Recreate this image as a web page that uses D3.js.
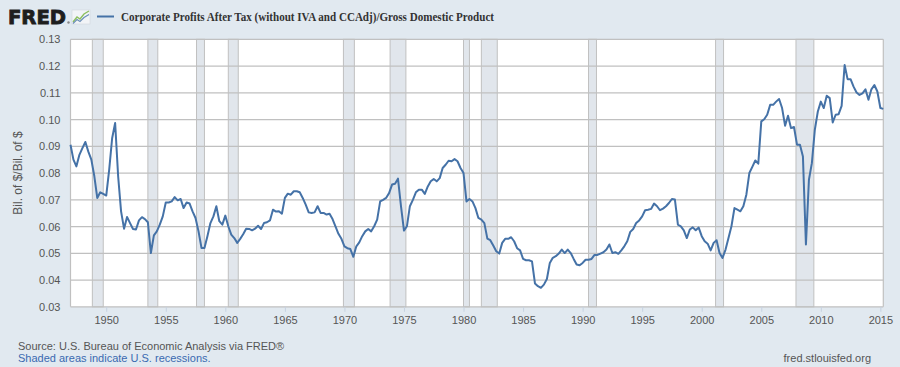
<!DOCTYPE html>
<html><head><meta charset="utf-8">
<script src="https://cdn.jsdelivr.net/npm/d3@7"></script>
<style>
html,body{margin:0;padding:0;background:#e1e9f0;}
svg{display:block;}
</style></head>
<body>
<svg id="c" width="900" height="367"></svg>
<script>
// ---- data ----
const title = "Corporate Profits After Tax (without IVA and CCAdj)/Gross Domestic Product";
const yAxisLabel = "Bil. of $/Bil. of $";
const startQuarter = "1947-01-01"; // quarterly observations from 1947Q1
const values = [
0.0906,0.0850,0.0825,0.0868, 0.0893,0.0916,0.0880,0.0850,
0.0788,0.0707,0.0728,0.0722, 0.0716,0.0812,0.0930,0.0987,
0.0788,0.0657,0.0592,0.0636, 0.0613,0.0591,0.0589,0.0623,
0.0635,0.0628,0.0616,0.0501, 0.0567,0.0582,0.0607,0.0638,
0.0690,0.0690,0.0694,0.0710, 0.0698,0.0703,0.0669,0.0690,
0.0686,0.0657,0.0632,0.0582, 0.0520,0.0520,0.0564,0.0613,
0.0638,0.0676,0.0620,0.0607, 0.0641,0.0601,0.0570,0.0557,
0.0539,0.0554,0.0571,0.0592, 0.0591,0.0586,0.0592,0.0603,
0.0591,0.0613,0.0616,0.0623, 0.0663,0.0656,0.0657,0.0648,
0.0707,0.0723,0.0719,0.0732, 0.0732,0.0728,0.0707,0.0682,
0.0653,0.0651,0.0653,0.0676, 0.0651,0.0651,0.0645,0.0648,
0.0628,0.0601,0.0573,0.0554, 0.0526,0.0519,0.0516,0.0487,
0.0526,0.0541,0.0564,0.0582, 0.0591,0.0582,0.0601,0.0626,
0.0694,0.0700,0.0707,0.0725, 0.0757,0.0760,0.0779,0.0676,
0.0585,0.0601,0.0676,0.0700, 0.0728,0.0738,0.0738,0.0722,
0.0750,0.0769,0.0778,0.0769, 0.0781,0.0819,0.0831,0.0846,
0.0844,0.0852,0.0844,0.0819, 0.0800,0.0694,0.0703,0.0694,
0.0669,0.0632,0.0626,0.0613, 0.0555,0.0549,0.0529,0.0508,
0.0499,0.0539,0.0554,0.0554, 0.0560,0.0545,0.0519,0.0511,
0.0479,0.0474,0.0474,0.0470, 0.0387,0.0377,0.0371,0.0383,
0.0404,0.0464,0.0483,0.0489, 0.0499,0.0514,0.0501,0.0514,
0.0501,0.0479,0.0458,0.0455, 0.0464,0.0476,0.0476,0.0479,
0.0494,0.0494,0.0499,0.0504, 0.0514,0.0533,0.0501,0.0504,
0.0498,0.0511,0.0526,0.0545, 0.0580,0.0591,0.0613,0.0623,
0.0638,0.0661,0.0663,0.0666, 0.0686,0.0676,0.0661,0.0667,
0.0676,0.0688,0.0703,0.0701, 0.0607,0.0601,0.0586,0.0557,
0.0589,0.0597,0.0586,0.0596, 0.0564,0.0545,0.0536,0.0511,
0.0539,0.0549,0.0501,0.0483, 0.0514,0.0557,0.0601,0.0669,
0.0663,0.0657,0.0676,0.0719, 0.0800,0.0823,0.0847,0.0835,
0.0993,0.1001,0.1018,0.1055, 0.1055,0.1067,0.1077,0.1043,
0.0977,0.1014,0.0968,0.0972, 0.0906,0.0906,0.0862,0.0533,
0.0775,0.0837,0.0962,0.1030, 0.1067,0.1043,0.1089,0.1080,
0.0989,0.1018,0.1020,0.1051, 0.1204,0.1151,0.1151,0.1123,
0.1101,0.1092,0.1098,0.1113, 0.1074,0.1113,0.1129,0.1105,
0.1043,0.1040
];
const recessionStarts = ["1948-11-01","1953-07-01","1957-08-01","1960-04-01","1969-12-01","1973-11-01","1980-01-01","1981-07-01","1990-07-01","2001-03-01","2007-12-01"];
const recessionEnds   = ["1949-10-01","1954-05-01","1958-04-01","1961-02-01","1970-11-01","1975-03-01","1980-07-01","1982-11-01","1991-03-01","2001-11-01","2009-06-01"];
const yTicks = [0.03,0.04,0.05,0.06,0.07,0.08,0.09,0.10,0.11,0.12,0.13];
const xTickYears = [1950,1955,1960,1965,1970,1975,1980,1985,1990,1995,2000,2005,2010,2015];
const sourceText = "Source: U.S. Bureau of Economic Analysis via FRED®";
const shadedText = "Shaded areas indicate U.S. recessions.";
const siteText = "fred.stlouisfed.org";

// ---- build ----
const parse = d3.utcParse("%Y-%m-%d");
const start = parse(startQuarter);
const series = values.map((v,i)=>({date:d3.utcMonth.offset(start,3*i), value:v}));
const recessions = recessionStarts.map((s,i)=>({s:parse(s), e:parse(recessionEnds[i])}));

const svg = d3.select("#c");
const L=70.5, R=883.3, T=39.3, B=306.8;

const x = d3.scaleUtc().domain([series[0].date, series[series.length-1].date]).range([L,R]);
const y = d3.scaleLinear().domain([0.03,0.13]).range([B,T]);

// plot background
svg.append("rect").attr("x",L).attr("y",T).attr("width",R-L).attr("height",B-T).attr("fill","#ffffff");

// recession bands
svg.append("g").selectAll("rect").data(recessions).join("rect")
  .attr("x",d=>x(d.s)).attr("y",T).attr("width",d=>x(d.e)-x(d.s)).attr("height",B-T)
  .attr("fill","#e1e6ec").attr("stroke","#c0c0c0").attr("stroke-width",1);

// gridlines
svg.append("g").selectAll("line").data(yTicks).join("line")
  .attr("x1",L).attr("x2",R).attr("y1",d=>y(d)).attr("y2",d=>y(d))
  .attr("stroke","#c0c0c0").attr("stroke-width",1.2);
svg.append("g").selectAll("line").data([L,R]).join("line")
  .attr("x1",d=>d).attr("x2",d=>d).attr("y1",T).attr("y2",B)
  .attr("stroke","#c0c0c0").attr("stroke-width",1.2);

// y axis labels
const yAxis = d3.axisLeft(y).tickValues(yTicks).tickFormat(d3.format(".2f")).tickSize(0).tickPadding(0);
const gy = svg.append("g").attr("transform",`translate(${L-10},0)`).call(yAxis);
gy.select(".domain").remove();
gy.selectAll("text").attr("font-family","Liberation Sans, Arial, sans-serif").attr("font-size","11px").attr("fill","#555");

// x axis
const xAxis = d3.axisBottom(x).tickValues(xTickYears.map(yr=>new Date(Date.UTC(yr,0,1))))
  .tickFormat(d3.utcFormat("%Y")).tickSize(5).tickPadding(4);
const gx = svg.append("g").attr("transform",`translate(0,${B})`).call(xAxis);
gx.select(".domain").remove();
gx.selectAll("line").attr("stroke","#c6d2e0");
gx.selectAll("text").attr("font-family","Liberation Sans, Arial, sans-serif").attr("font-size","11px").attr("fill","#555");

// line
const line = d3.line().x(d=>x(d.date)).y(d=>y(d.value));
svg.append("path").datum(series).attr("d",line).attr("fill","none")
  .attr("stroke","#4572a7").attr("stroke-width",2).attr("stroke-linejoin","round");

// y axis title
svg.append("text").attr("transform","translate(22,173) rotate(-90)").attr("text-anchor","middle")
  .attr("font-family","Liberation Sans, Arial, sans-serif").attr("font-size","12px").attr("fill","#555").text(yAxisLabel);

// header: FRED logo
svg.append("text").attr("x",8).attr("y",24).attr("font-family","DejaVu Sans, Liberation Sans, Arial, sans-serif")
  .attr("font-weight","bold").attr("font-size","20px").attr("fill","#1e1e1e")
  .attr("stroke","#1e1e1e").attr("stroke-width",0.9)
  .attr("textLength",58).attr("lengthAdjust","spacingAndGlyphs").text("FRED");
svg.append("circle").attr("cx",68.5).attr("cy",22.5).attr("r",1.2).attr("fill","#888");
const icon = svg.append("g").attr("transform","translate(72,10)");
icon.append("rect").attr("x",0).attr("y",0).attr("width",18).attr("height",14).attr("fill","#f2f4f7").attr("stroke","#cfd6de").attr("stroke-width",0.6);
icon.append("path").attr("d","M1,12 L5,7 L8,9 L12,4 L17,1").attr("fill","none").attr("stroke","#8cbf5f").attr("stroke-width",1.4);
icon.append("path").attr("d","M1,13.5 L5,9.5 L8,11.5 L12,7.5 L17,4.5").attr("fill","none").attr("stroke","#6b8fb8").attr("stroke-width",1.2);

// legend
svg.append("line").attr("x1",97).attr("x2",114).attr("y1",16.5).attr("y2",16.5).attr("stroke","#4572a7").attr("stroke-width",2);
svg.append("text").attr("x",121).attr("y",20.5).attr("font-family","Liberation Serif, Times New Roman, serif")
  .attr("font-weight","bold").attr("font-size","12px").attr("fill","#333")
  .attr("textLength",373).attr("lengthAdjust","spacingAndGlyphs").text(title);

// footer
svg.append("text").attr("x",18).attr("y",350).attr("font-family","Liberation Sans, Arial, sans-serif")
  .attr("font-size","11px").attr("fill","#555").text(sourceText);
svg.append("text").attr("x",18).attr("y",362).attr("font-family","Liberation Sans, Arial, sans-serif")
  .attr("font-size","11px").attr("fill","#3a6ab0").text(shadedText);
svg.append("text").attr("x",871).attr("y",362).attr("text-anchor","end").attr("font-family","Liberation Sans, Arial, sans-serif")
  .attr("font-size","11px").attr("fill","#555").text(siteText);
</script>
</body></html>
